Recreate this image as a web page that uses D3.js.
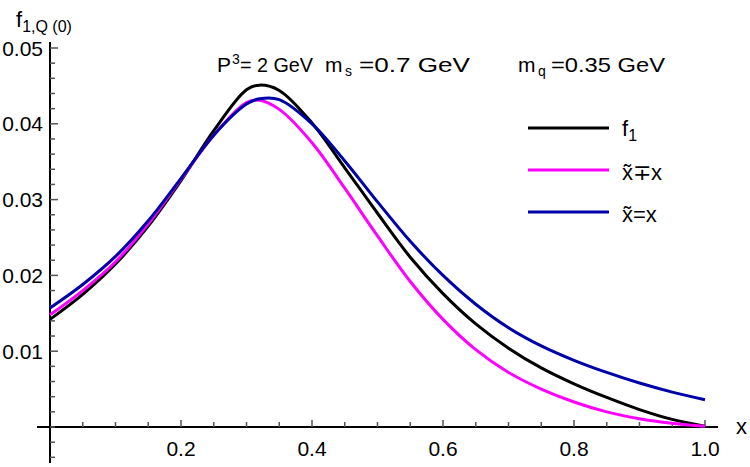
<!DOCTYPE html>
<html>
<head>
<meta charset="utf-8">
<script src="https://d3js.org/d3.v7.min.js"></script>
<style>
  body { margin: 0; background: #fff; }
  text { font-family: "Liberation Sans", Arial, sans-serif; fill: #000; }
</style>
</head>
<body>
<script>
var w = 750, h = 467;

// x grid shared by the three curves
var xs = [0, 0.05, 0.1, 0.15, 0.2, 0.25, 0.3, 0.32, 0.35, 0.4, 0.45, 0.5, 0.55, 0.6, 0.65, 0.7, 0.75, 0.8, 0.85, 0.9, 0.95, 1.0];
var f1 = [0.0142, 0.0175, 0.0215, 0.0265, 0.0325, 0.0391, 0.0445, 0.0451, 0.0444, 0.0401, 0.0342, 0.0282, 0.0224, 0.0176, 0.0136, 0.0104, 0.0078, 0.0057, 0.0039, 0.0023, 0.0010, 0.0001];
var xNeq = [0.0148, 0.0180, 0.0218, 0.0268, 0.0327, 0.0385, 0.0428, 0.0431, 0.0419, 0.0375, 0.0315, 0.0252, 0.0192, 0.0142, 0.0102, 0.0072, 0.0050, 0.0033, 0.0020, 0.0011, 0.0005, 0.0001];
var xEq = [0.0157, 0.0188, 0.0225, 0.0272, 0.0328, 0.0385, 0.0426, 0.0433, 0.0432, 0.0400, 0.0351, 0.0297, 0.0245, 0.0200, 0.0162, 0.0131, 0.0107, 0.0088, 0.0072, 0.0058, 0.0046, 0.0036];

var xTicks = [0.2, 0.4, 0.6, 0.8, 1.0];
var yTicks = [0.01, 0.02, 0.03, 0.04, 0.05];
var xMinor = d3.range(1, 21).map(function(i) { return i * 0.05; });
var yMinor = d3.range(-2, 26).map(function(i) { return i * 0.002; });

var series = [
    {name: 'f1', values: f1, color: '#000000'},
    {name: 'neq', values: xNeq, color: '#ff00ff'},
    {name: 'eq', values: xEq, color: '#0000a8'}
];

var xScale = d3.scaleLinear().domain([0, 1]).range([50, 705]);
var yScale = d3.scaleLinear().domain([0, 0.05]).range([427, 48]);
var x0 = xScale(0), y0 = yScale(0);

var svg = d3.select('body').append('svg')
    .attr('width', w)
    .attr('height', h)
    .style('display', 'block');

function isMajor(list, d) {
    return list.some(function(t) { return Math.abs(t - d) < 1e-6; });
}

// axis lines
svg.append('path')
    .attr('d', 'M37,' + y0 + 'H718M' + x0 + ',42V463')
    .attr('fill', 'none')
    .attr('stroke', '#000')
    .attr('stroke-width', 2);

// ticks as small filled bars pointing into the plot
svg.append('g').selectAll('rect')
    .data(xMinor)
    .enter()
    .append('rect')
    .attr('x', function(d) { return xScale(d) - 0.75; })
    .attr('width', 1.5)
    .attr('y', function(d) { return y0 - (isMajor(xTicks, d) ? 7 : 5); })
    .attr('height', function(d) { return isMajor(xTicks, d) ? 7 : 5; })
    .attr('fill', '#555');

svg.append('g').selectAll('rect')
    .data(yMinor)
    .enter()
    .append('rect')
    .attr('x', x0)
    .attr('width', function(d) { return isMajor(yTicks, d) ? 8 : 5; })
    .attr('y', function(d) { return yScale(d) - 0.75; })
    .attr('height', 1.5)
    .attr('fill', '#555');

// tick labels
svg.append('g').selectAll('text')
    .data(xTicks)
    .enter()
    .append('text')
    .attr('x', function(d) { return xScale(d); })
    .attr('y', y0 + 29)
    .attr('text-anchor', 'middle')
    .attr('font-size', '21px')
    .text(d3.format('.1f'));

svg.append('g').selectAll('text')
    .data(yTicks)
    .enter()
    .append('text')
    .attr('x', x0 - 7)
    .attr('y', function(d) { return yScale(d) + 7.5; })
    .attr('text-anchor', 'end')
    .attr('font-size', '21px')
    .text(d3.format('.2f'));

// curves
var line = d3.line()
    .x(function(d, i) { return xScale(xs[i]); })
    .y(function(d) { return yScale(d); })
    .curve(d3.curveCatmullRom.alpha(0.5));

svg.selectAll('path.curve')
    .data(series)
    .enter()
    .append('path')
    .attr('class', 'curve')
    .attr('d', function(d) { return line(d.values); })
    .attr('fill', 'none')
    .attr('stroke', function(d) { return d.color; })
    .attr('stroke-width', 3);

// axis titles
svg.append('text').attr('x', 736).attr('y', 434).attr('font-size', '22px').text('x');

var yt = svg.append('text').attr('x', 16).attr('y', 27).attr('font-size', '22px');
yt.append('tspan').text('f');
yt.append('tspan').attr('dy', 5).attr('font-size', '16px').text('1,Q (0)');

// parameter annotation
var annY = 72;
function ann(x, str, size, dy, len) {
    var t = svg.append('text')
        .attr('x', x)
        .attr('y', annY + dy)
        .attr('font-size', size + 'px')
        .text(str);
    if (len) t.attr('textLength', len).attr('lengthAdjust', 'spacingAndGlyphs');
}
ann(217, 'P', 21, 0);
ann(232, '3', 14, -8);
ann(240, '= 2 GeV', 21, 0, 73);
ann(325, 'm', 21, 0);
ann(345, 's', 14, 4);
ann(359, '=0.7 GeV', 21, 0, 111);
ann(518, 'm', 21, 0);
ann(538, 'q', 14, 4);
ann(551, '=0.35 GeV', 21, 0, 114);

// legend
var legendY = [128, 170, 212];
var lg = svg.selectAll('g.legend')
    .data(series)
    .enter()
    .append('g')
    .attr('class', 'legend')
    .attr('transform', function(d, i) { return 'translate(528,' + legendY[i] + ')'; });

lg.append('line')
    .attr('x1', 0).attr('x2', 81)
    .attr('stroke', function(d) { return d.color; })
    .attr('stroke-width', 3);

lg.each(function(d) {
    var t = d3.select(this).append('text').attr('x', 94).attr('y', 10).attr('font-size', '22px');
    if (d.name === 'f1') {
        t.attr('y', 8);
        t.append('tspan').text('f');
        t.append('tspan').attr('dy', 5).attr('font-size', '16px').text('1');
    } else if (d.name === 'neq') {
        t.text('x\u0303\u2213x');
    } else {
        t.text('x\u0303=x');
    }
});
</script>
</body>
</html>
